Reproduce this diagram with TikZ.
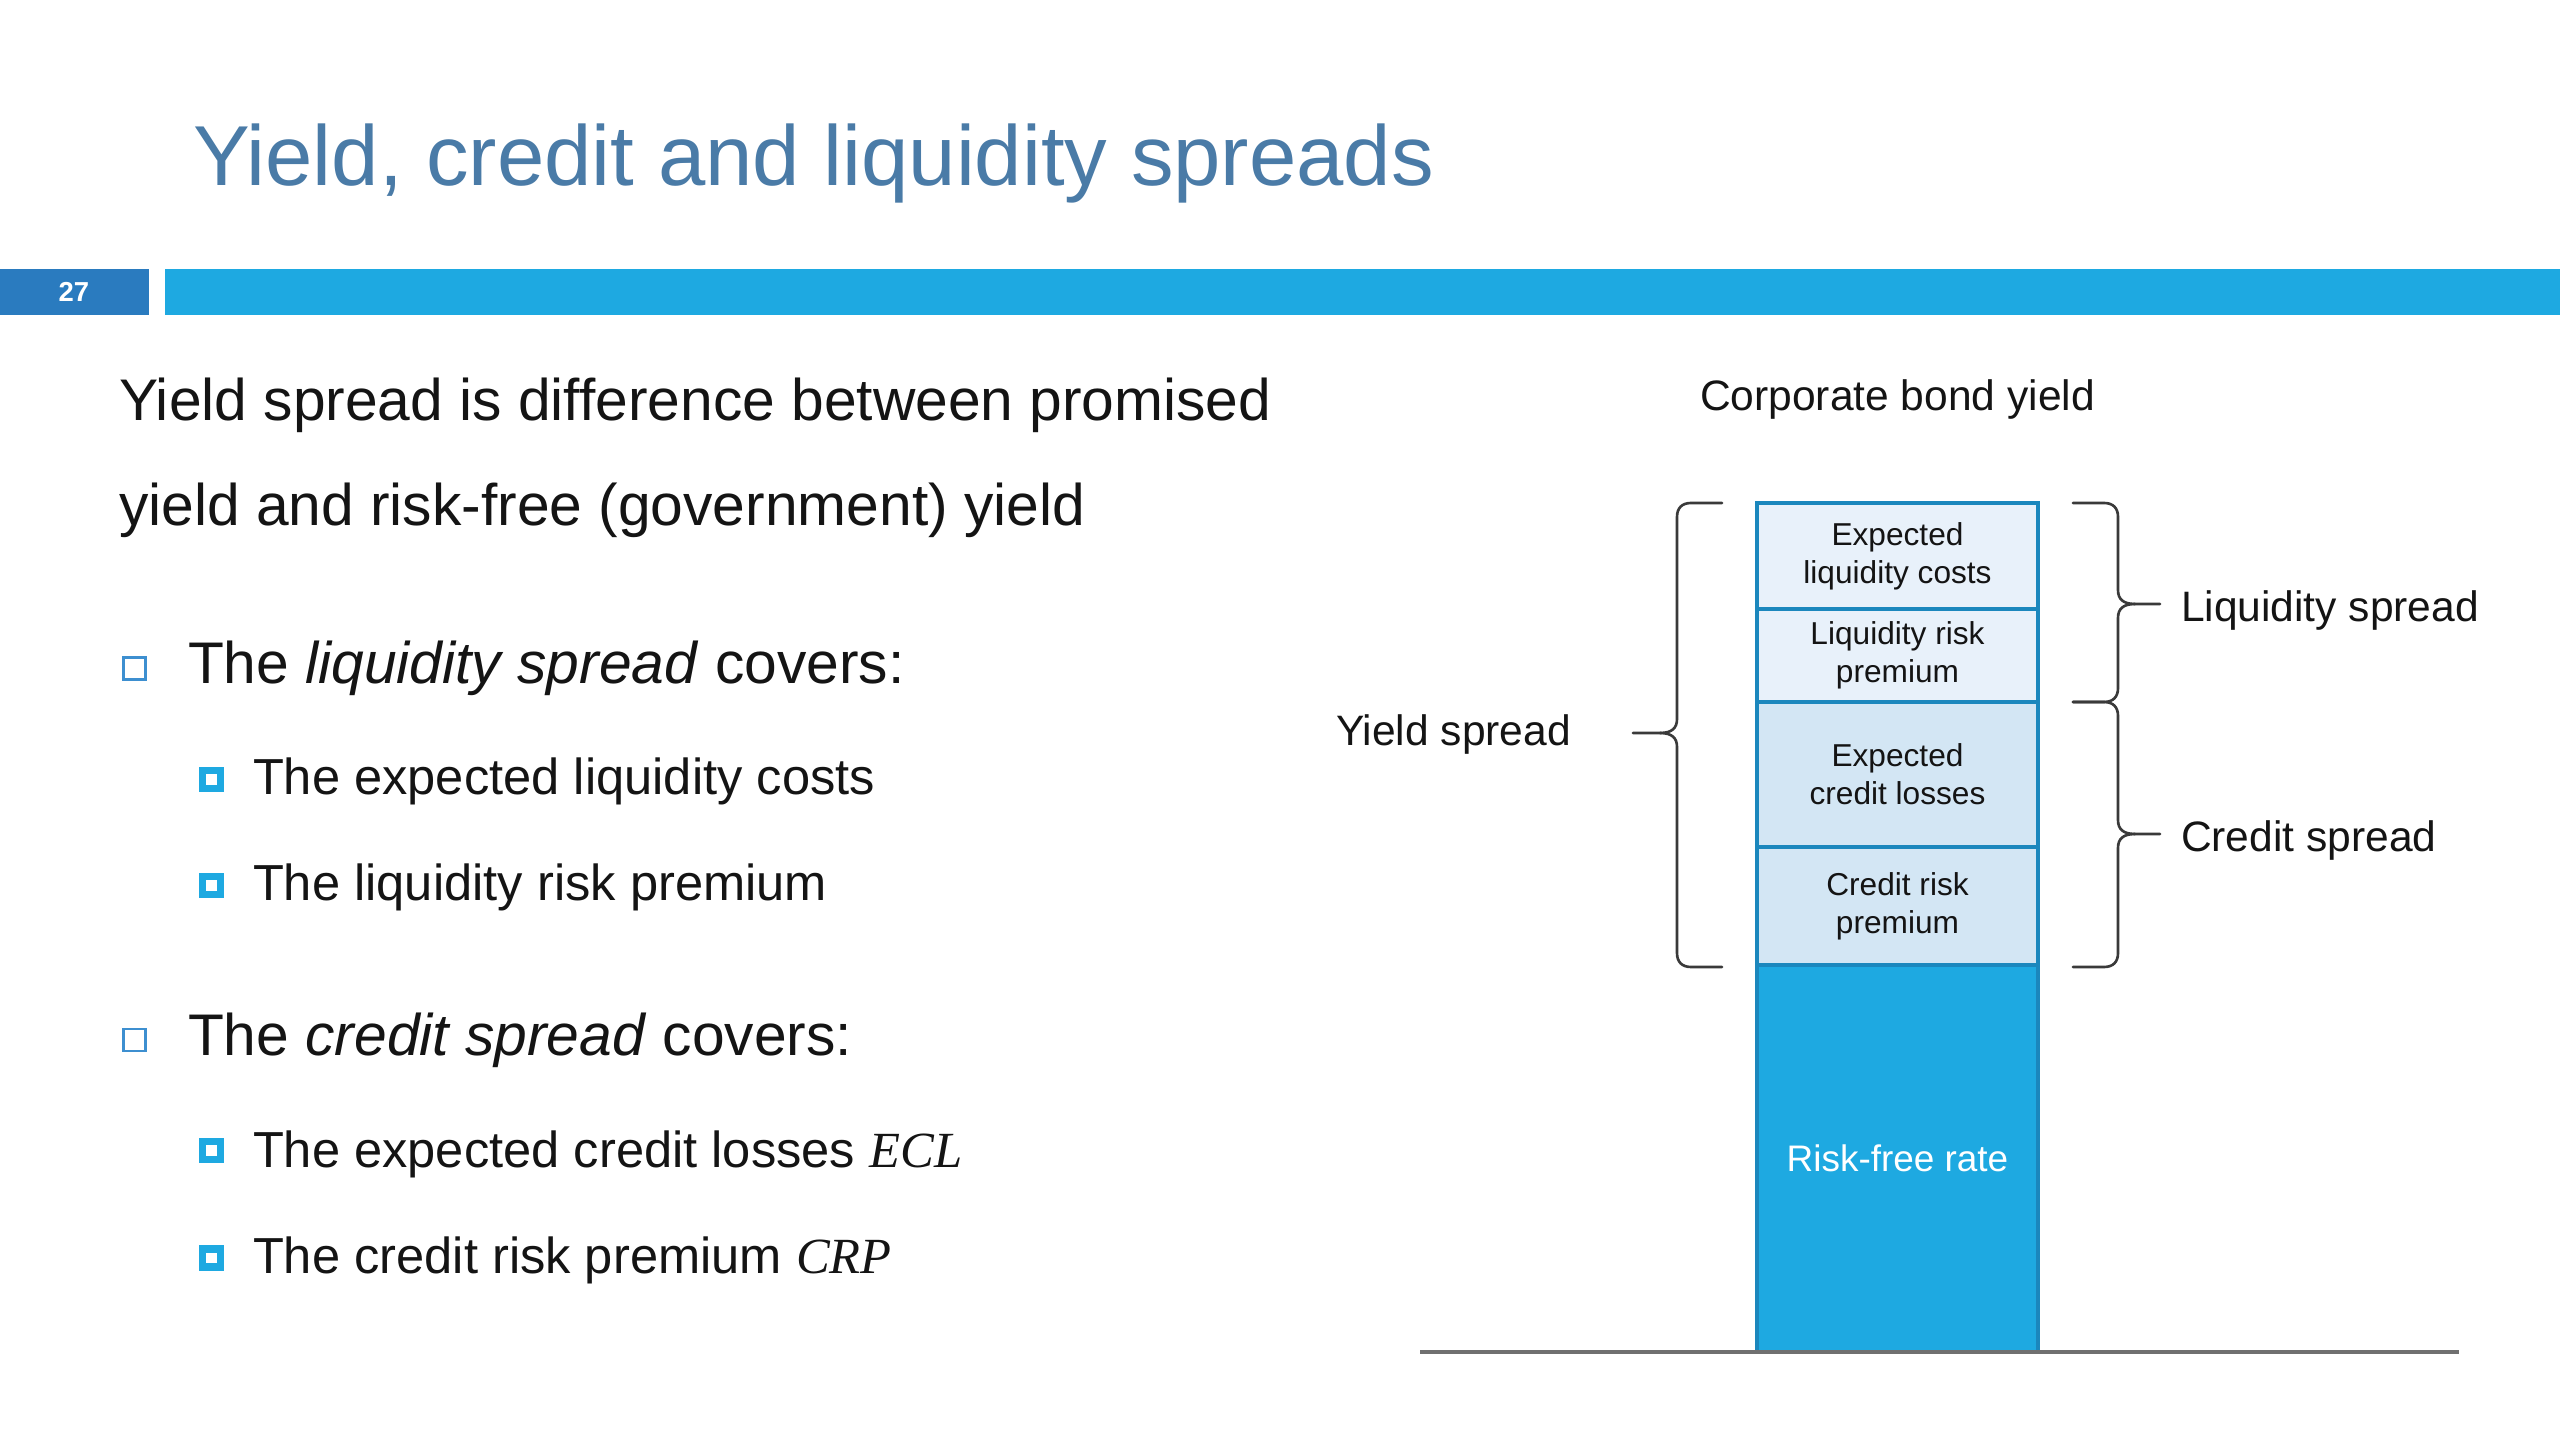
\documentclass[tikz,border=0pt]{standalone}
\usepackage{fontspec}
\setmainfont{Liberation Sans}
\newfontfamily\mathitfont{Liberation Serif}
\definecolor{titleblue}{HTML}{4A7BA7}
\definecolor{numblue}{HTML}{2A7BBF}
\definecolor{barblue}{HTML}{1EA9E1}
\definecolor{segline}{HTML}{1B87BD}
\definecolor{segtop}{HTML}{E8F1FA}
\definecolor{segmid}{HTML}{D3E6F4}
\definecolor{hollowblue}{HTML}{3D8FD0}
\definecolor{txtblack}{HTML}{141414}
\definecolor{bracegray}{HTML}{3A3A3A}
\definecolor{basegray}{HTML}{707070}
\begin{document}
\begin{tikzpicture}[x=0.01cm,y=-0.01cm,
  txt/.style={inner sep=0pt, outer sep=0pt, text=txtblack},
  seg/.style={draw=segline, line width=1.1pt, minimum width=2.81cm, inner sep=0pt, align=center,
    font=\fontsize{9}{10.8}\selectfont, text=txtblack},
  brc/.style={draw=bracegray, line width=0.75pt, line join=round, line cap=round},
  hollowbox/.style={draw=hollowblue, line width=0.8pt, minimum size=0.22cm, inner sep=0pt},
  subbox/.style={draw=barblue, fill=white, line width=2.2pt, minimum size=0.18cm, inner sep=0pt},
  lvlone/.style={txt, anchor=base west, font=\fontsize{16.7}{20}\selectfont},
  lvltwo/.style={txt, anchor=base west, font=\fontsize{14.4}{17}\selectfont},
  dlabel/.style={txt, font=\fontsize{12.1}{14.5}\selectfont}]
\useasboundingbox (0,0) rectangle (2560,1440);
\fill[white] (0,0) rectangle (2560,1440);

% header
\node[txt, anchor=base west, text=titleblue, font=\fontsize{24.2}{29}\selectfont] (title) at (193,186) {Yield, credit and liquidity spreads};
\fill[numblue] (0,269) rectangle (149,315);
\fill[barblue] (165,269) rectangle (2560,315);
\node[txt, text=white, font=\fontsize{7.8}{9}\selectfont\bfseries] (num) at (74,292) {27};

% left text
\node[lvlone] (l1) at (119,421) {Yield spread is difference between promised};
\node[lvlone] (l2) at (119,526) {yield and risk-free (government) yield};

\node[hollowbox] (b1) at (134.5,668.5) {};
\node[lvlone] (t1) at (188,684) {The \textit{liquidity spread} covers:};
\node[subbox] (s1) at (211.5,779.5) {};
\node[lvltwo] (t11) at (253,795) {The expected liquidity costs};
\node[subbox] (s2) at (211.5,885.5) {};
\node[lvltwo] (t12) at (253,901) {The liquidity risk premium};

\node[hollowbox] (b2) at (134.5,1040) {};
\node[lvlone] (t2) at (188,1055) {The \textit{credit spread} covers:};
\node[subbox] (s3) at (211.5,1150.5) {};
\node[lvltwo] (t21) at (253,1167) {The expected credit losses {\mathitfont\itshape ECL}};
\node[subbox] (s4) at (211.5,1258) {};
\node[lvltwo] (t22) at (253,1273) {The credit risk premium {\mathitfont\itshape CRP}};

% diagram
\node[dlabel, anchor=base] (cby) at (1897.5,411) {Corporate bond yield};

\node[seg, fill=barblue, minimum height=3.87cm, text=white, font=\fontsize{10.5}{12}\selectfont] (rf) at (1897.5,1158.5) {Risk-free rate};
\node[seg, fill=segmid, minimum height=1.18cm] (crp) at (1897.5,906) {Credit risk\\premium};
\node[seg, fill=segmid, minimum height=1.45cm] (ecl) at (1897.5,774.5) {Expected\\credit losses};
\node[seg, fill=segtop, minimum height=0.93cm] (lrp) at (1897.5,655.5) {Liquidity risk\\premium};
\node[seg, fill=segtop, minimum height=1.06cm] (elc) at (1897.5,556) {Expected\\liquidity costs};

\coordinate (gl) at (1420,1352);
\coordinate (gr) at (2459,1352);
\draw[basegray, line width=1.1pt] (gl) -- (gr);

% yield spread brace
\draw[brc] (1722,503) -- (1691,503) .. controls (1682,503) and (1677,508) .. (1677,517) -- (1677,719) .. controls (1677,728) and (1672,733) .. (1660,733) -- (1633,733);
\draw[brc] (1660,733) .. controls (1672,733) and (1677,738) .. (1677,747) -- (1677,953) .. controls (1677,962) and (1682,967) .. (1691,967) -- (1722,967);
\node[dlabel, anchor=base east] (ys) at (1571,746) {Yield spread};

% liquidity spread brace
\draw[brc] (2073,503) -- (2104,503) .. controls (2113,503) and (2118,508) .. (2118,517) -- (2118,590) .. controls (2118,599) and (2123,604) .. (2135,604) -- (2160,604);
\draw[brc] (2135,604) .. controls (2123,604) and (2118,609) .. (2118,618) -- (2118,688) .. controls (2118,697) and (2113,702) .. (2104,702) -- (2073,702);
\node[dlabel, anchor=base west] (ls) at (2181,622) {Liquidity spread};

% credit spread brace
\draw[brc] (2073,702) -- (2104,702) .. controls (2113,702) and (2118,707) .. (2118,716) -- (2118,820) .. controls (2118,829) and (2123,834) .. (2135,834) -- (2160,834);
\draw[brc] (2135,834) .. controls (2123,834) and (2118,839) .. (2118,848) -- (2118,953) .. controls (2118,962) and (2113,967) .. (2104,967) -- (2073,967);
\node[dlabel, anchor=base west] (cs) at (2181,852) {Credit spread};
\end{tikzpicture}
\end{document}
